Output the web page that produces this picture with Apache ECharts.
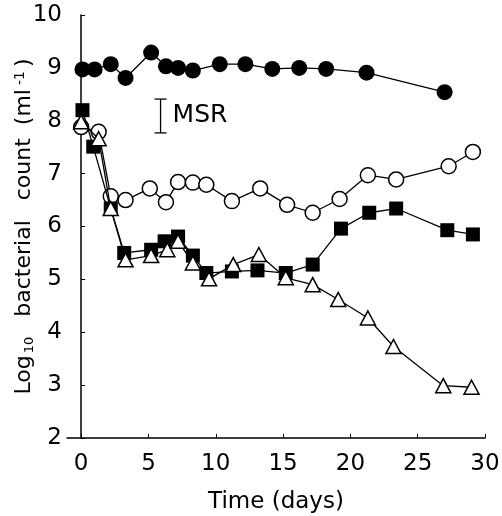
<!DOCTYPE html>
<html>
<head>
<meta charset="utf-8">
<script src="https://cdn.jsdelivr.net/npm/echarts@6/dist/echarts.min.js"></script>
<style>
  html, body { margin: 0; padding: 0; background: #fff; }
  #chart { width: 502px; height: 516px; }
</style>
</head>
<body>
<div id="chart"></div>
<script>
// filled circles
var filledCircleDays = [0.1, 1.0, 2.2, 3.3, 5.2, 6.3, 7.2, 8.3, 10.3, 12.2, 14.2, 16.2, 18.2, 21.2, 27.0];
var filledCircleVals = [8.97, 8.97, 9.07, 8.81, 9.29, 9.03, 9.0, 8.95, 9.07, 9.07, 8.98, 9.0, 8.98, 8.91, 8.54];
// open circles
var openCircleDays = [0.0, 1.3, 2.2, 3.3, 5.1, 6.3, 7.2, 8.3, 9.3, 11.2, 13.3, 15.3, 17.2, 19.2, 21.3, 23.4, 27.3, 29.1];
var openCircleVals = [7.88, 7.79, 6.57, 6.5, 6.72, 6.46, 6.84, 6.83, 6.79, 6.48, 6.72, 6.41, 6.26, 6.52, 6.97, 6.89, 7.14, 7.41];
// filled squares
var squareDays = [0.1, 0.9, 2.2, 3.2, 5.2, 6.2, 7.2, 8.3, 9.3, 11.2, 13.1, 15.2, 17.2, 19.3, 21.4, 23.4, 27.2, 29.1];
var squareVals = [8.2, 7.51, 6.34, 5.5, 5.56, 5.72, 5.81, 5.45, 5.12, 5.15, 5.17, 5.12, 5.28, 5.96, 6.26, 6.34, 5.93, 5.85];
// open triangles
var triangleDays = [0.0, 1.3, 2.2, 3.3, 5.2, 6.4, 7.2, 8.3, 9.5, 11.3, 13.2, 15.2, 17.2, 19.1, 21.3, 23.2, 26.9, 29.0];
var triangleVals = [7.98, 7.66, 6.34, 5.37, 5.45, 5.56, 5.72, 5.31, 5.01, 5.28, 5.47, 5.03, 4.9, 4.62, 4.27, 3.73, 2.99, 2.96];
// MSR bar
var msrX = 5.9;
var msrLow = 7.77;
var msrHigh = 8.41;
var msrText = 'MSR';

var xTicks = [0, 5, 10, 15, 20, 25, 30];

function pairs(xs, ys) {
  return xs.map(function (x, i) { return [x, ys[i]]; });
}

var font = 'DejaVu Sans, sans-serif';
var lineStyle = { color: '#000', width: 1.3 };

var myChart = echarts.init(document.getElementById('chart'));
myChart.setOption({
  animation: false,
  backgroundColor: '#fff',
  grid: { left: 67, right: 17, top: 15, bottom: 78, containLabel: false, outerBoundsMode: 'none' },
  xAxis: {
    type: 'value',
    min: -1.05,
    max: 30,
    name: 'Time (days)',
    nameLocation: 'middle',
    nameGap: 53,
    nameMoveOverlap: false,
    nameTextStyle: { fontFamily: font, fontSize: 23, color: '#000' },
    axisLine: { lineStyle: { color: '#000', width: 1.5 } },
    axisTick: { inside: true, length: 4, customValues: xTicks, lineStyle: { color: '#000' } },
    axisLabel: { customValues: xTicks, margin: 15, fontFamily: font, fontSize: 23, color: '#000' },
    splitLine: { show: false }
  },
  yAxis: {
    type: 'value',
    min: 2,
    max: 10,
    interval: 1,
    name: '{n|Log}{s|10}{b|bacterial}{c|count}{d|(ml}{p|-1}{n|)}',
    nameLocation: 'middle',
    nameGap: 31,
    nameMoveOverlap: false,
    nameTextStyle: {
      color: '#000',
      rich: {
        n: { fontFamily: font, fontSize: 22, color: '#000' },
        b: { fontFamily: font, fontSize: 22, color: '#000', padding: [0, 0, 0, 18] },
        c: { fontFamily: font, fontSize: 22, color: '#000', padding: [0, 0, 0, 20] },
        d: { fontFamily: font, fontSize: 22, color: '#000', padding: [0, 0, 0, 13] },
        s: { fontFamily: font, fontSize: 13, color: '#000', verticalAlign: 'bottom', padding: [8, 2, 0, 2] },
        p: { fontFamily: font, fontSize: 14, color: '#000', verticalAlign: 'top', padding: [0, 4, 9, 4] }
      }
    },
    axisLine: { show: true, lineStyle: { color: '#000', width: 1.5 } },
    axisTick: { show: true, inside: true, length: 4, lineStyle: { color: '#000' } },
    axisLabel: { margin: 5, fontFamily: font, fontSize: 23, color: '#000' },
    splitLine: { show: false }
  },
  series: [
    {
      type: 'line',
      data: pairs(openCircleDays, openCircleVals),
      symbol: 'circle',
      symbolSize: 15,
      lineStyle: lineStyle,
      itemStyle: { color: '#fff', borderColor: '#000', borderWidth: 1.5 },
      z: 2
    },
    {
      type: 'line',
      data: pairs(squareDays, squareVals),
      symbol: 'rect',
      symbolSize: 14,
      lineStyle: lineStyle,
      itemStyle: { color: '#000', borderColor: '#000', borderWidth: 0 },
      z: 3
    },
    {
      type: 'line',
      data: pairs(triangleDays, triangleVals),
      symbol: 'triangle',
      symbolSize: [15, 14],
      lineStyle: lineStyle,
      itemStyle: { color: '#fff', borderColor: '#000', borderWidth: 1.5 },
      z: 4
    },
    {
      type: 'line',
      data: pairs(filledCircleDays, filledCircleVals),
      symbol: 'circle',
      symbolSize: 16,
      lineStyle: lineStyle,
      itemStyle: { color: '#000', borderColor: '#000', borderWidth: 0 },
      z: 5
    },
    {
      type: 'custom',
      data: [[msrX, msrLow, msrHigh]],
      renderItem: function (params, api) {
        var top = api.coord([api.value(0), api.value(2)]);
        var bot = api.coord([api.value(0), api.value(1)]);
        var cap = 6;
        return {
          type: 'group',
          children: [
            { type: 'line', shape: { x1: top[0], y1: top[1], x2: bot[0], y2: bot[1] }, style: { stroke: '#000', lineWidth: 1.3 } },
            { type: 'line', shape: { x1: top[0] - cap, y1: top[1], x2: top[0] + cap, y2: top[1] }, style: { stroke: '#000', lineWidth: 1.3 } },
            { type: 'line', shape: { x1: bot[0] - cap, y1: bot[1], x2: bot[0] + cap, y2: bot[1] }, style: { stroke: '#000', lineWidth: 1.3 } },
            {
              type: 'text',
              style: {
                text: msrText,
                x: top[0] + 12,
                y: (top[1] + bot[1]) / 2,
                verticalAlign: 'middle',
                align: 'left',
                fontFamily: font,
                fontSize: 25,
                fill: '#000'
              }
            }
          ]
        };
      },
      z: 6
    }
  ]
});
</script>
</body>
</html>
